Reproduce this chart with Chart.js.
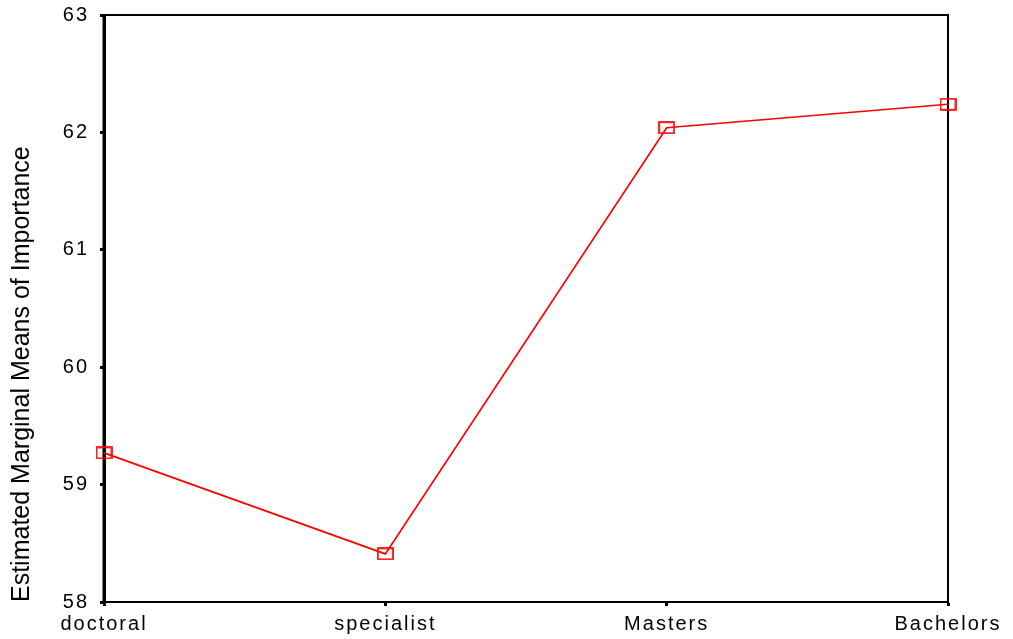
<!DOCTYPE html>
<html>
<head>
<meta charset="utf-8">
<script src="https://cdn.jsdelivr.net/npm/chart.js@4/dist/chart.umd.min.js"></script>
<style>
html,body{margin:0;padding:0;background:#fff;}
#wrap{width:1013px;height:639px;position:relative;}
</style>
</head>
<body>
<div id="wrap"><canvas id="c" width="1013" height="639"></canvas></div>
<script>
const categories = ["doctoral", "specialist", "Masters", "Bachelors"];
const importanceMeans = [59.27, 58.41, 62.04, 62.24];
const yTicks = [58, 59, 60, 61, 62, 63];
const yTitle = "Estimated Marginal Means of Importance";

// open rectangle marker
function rectMarker(){
  const cv = document.createElement('canvas');
  cv.width = 17; cv.height = 13;
  const g = cv.getContext('2d');
  g.strokeStyle = '#ff0000';
  g.lineWidth = 1.7;
  g.strokeRect(1, 1, 15, 11);
  return cv;
}
const marker = rectMarker();

const framePlugin = {
  id: 'frame',
  beforeDraw(chart){
    chart.ctx.letterSpacing = '0px';
  },
  beforeDatasetsDraw(chart){
    const a = chart.chartArea, ctx = chart.ctx;
    ctx.save();
    ctx.strokeStyle = '#000';
    ctx.lineWidth = 2;
    ctx.strokeRect(a.left, a.top, a.right - a.left, a.bottom - a.top);
    ctx.lineWidth = 3;
    ctx.beginPath();
    ctx.moveTo(a.left, a.top); ctx.lineTo(a.left, a.bottom);
    ctx.stroke();
    ctx.restore();
    // tick labels (drawn after this point) appear widened in the reference
    ctx.letterSpacing = '2px';
  },
  afterDraw(chart){
    chart.ctx.letterSpacing = '0px';
  }
};

const tickFont = { family: 'Liberation Sans, Arial, sans-serif', size: 20 };

new Chart(document.getElementById('c'), {
  type: 'line',
  data: {
    labels: categories,
    datasets: [{
      data: importanceMeans,
      borderColor: '#ff0000',
      backgroundColor: '#ff0000',
      borderWidth: 1.7,
      pointStyle: marker,
      pointRadius: 8,
      pointHoverRadius: 8,
      tension: 0,
      clip: false,
      fill: false
    }]
  },
  options: {
    responsive: false,
    animation: false,
    devicePixelRatio: 1,
    layout: { autoPadding: false, padding: { left: 0, right: 65, top: 15, bottom: 0 } },
    plugins: { legend: { display: false }, tooltip: { enabled: false } },
    scales: {
      x: {
        type: 'category',
        offset: false,
        afterFit(s){ s.height = 37; },
        grid: { drawOnChartArea: false, drawTicks: true, tickLength: 4, tickWidth: 3, tickColor: '#000' },
        border: { display: true, color: '#000', width: 2 },
        ticks: { z: 1, color: '#000', font: tickFont, padding: 6, maxRotation: 0, autoSkip: false }
      },
      y: {
        min: 58, max: 63,
        afterFit(s){ s.width = 104; s.paddingTop = 0; s.paddingBottom = 0; },
        afterBuildTicks(s){ s.ticks = yTicks.map(v => ({ value: v })); },
        grid: { drawOnChartArea: false, drawTicks: true, tickLength: 4, tickWidth: 3, tickColor: '#000' },
        border: { display: true, color: '#000', width: 3 },
        ticks: { z: 1, color: '#000', font: tickFont, padding: 11 },
        title: {
          display: true,
          text: yTitle,
          align: 'start',
          color: '#000',
          font: { family: 'Liberation Sans, Arial, sans-serif', size: 25 },
          padding: { top: 7, bottom: 0 }
        }
      }
    }
  },
  plugins: [framePlugin]
});
</script>
</body>
</html>
